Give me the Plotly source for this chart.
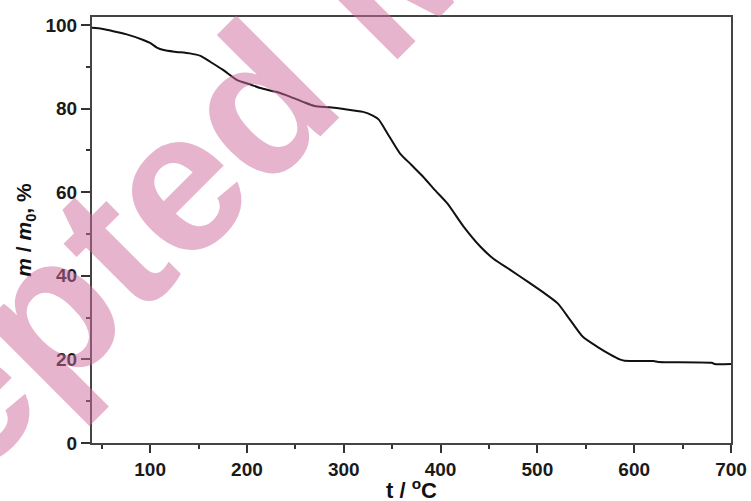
import plotly.graph_objects as go

# Thermogravimetric curve: temperature (°C) vs residual mass (%)
temperature = [40, 50, 60, 75, 93, 100, 107, 114, 125, 141, 152, 162, 175, 190,
               203, 214, 230, 245, 258, 270, 285, 300, 320, 330, 336, 345, 358,
               370, 382, 395, 407, 424, 441, 455, 472, 490, 505, 521, 534, 547,
               562, 575, 585, 590, 620, 625, 680, 683, 700]
mass_pct = [99.3, 99.1, 98.6, 97.8, 96.4, 95.7, 94.6, 94.0, 93.6, 93.2, 92.6,
            91.2, 89.3, 86.8, 85.8, 84.9, 84.0, 82.8, 81.6, 80.6, 80.3, 79.9,
            79.2, 78.3, 77.4, 74.1, 69.3, 66.5, 63.7, 60.3, 57.3, 51.7, 47.0,
            44.0, 41.4, 38.6, 36.2, 33.4, 29.4, 25.4, 23.0, 21.2, 20.0, 19.7,
            19.6, 19.4, 19.2, 18.9, 18.9]

x_ticks = [100, 200, 300, 400, 500, 600, 700]
y_ticks = [0, 20, 40, 60, 80, 100]

FONT = "Liberation Sans"

fig = go.Figure()
fig.add_trace(go.Scatter(
    x=temperature, y=mass_pct, mode="lines",
    line=dict(color="#111111", width=2, shape="spline", smoothing=0.6),
    showlegend=False,
))

axis_common = dict(
    showgrid=False, zeroline=False, showline=True, linewidth=2,
    linecolor="#444444", mirror=True, ticks="outside", tickcolor="#333333",
    tickwidth=1.5, automargin=False,
    tickfont=dict(family=FONT, size=19, color="#1a1a1a", weight="bold"),
)

fig.update_xaxes(
    range=[40, 700], tickvals=x_ticks, ticklen=8,
    minor=dict(dtick=50, tick0=0, ticks="outside", ticklen=4,
               tickcolor="#333333", tickwidth=1.5),
    **axis_common,
)
fig.update_yaxes(
    range=[0, 101.9], tickvals=y_ticks, ticklen=9,
    minor=dict(dtick=10, tick0=0, ticks="outside", ticklen=4,
               tickcolor="#333333", tickwidth=1.5),
    title=dict(text="<b><i>m</i> / <i>m</i><sub>0</sub>, %</b>", standoff=8,
               font=dict(family=FONT, size=21, color="#111111")),
    **axis_common,
)

# x-axis title placed just under the tick labels
fig.add_annotation(
    text="<b>t / <sup>o</sup>C</b>", xref="paper", yref="paper",
    x=0.5, y=0, xanchor="center", yanchor="top", yshift=-30,
    showarrow=False, font=dict(family=FONT, size=22, color="#111111"),
)

# Diagonal journal watermark laid over the plot
fig.add_annotation(
    text="<b>Accepted Manuscript</b>", xref="paper", yref="paper",
    x=0.4476, y=1.085, xanchor="center", yanchor="middle",
    textangle=-45, showarrow=False,
    font=dict(family=FONT, size=200, color="rgba(205,105,155,0.5)"),
)

fig.update_layout(
    width=751, height=501,
    margin=dict(l=92, r=20, t=17, b=58),
    paper_bgcolor="white", plot_bgcolor="white",
)

fig.write_html("out.html")
